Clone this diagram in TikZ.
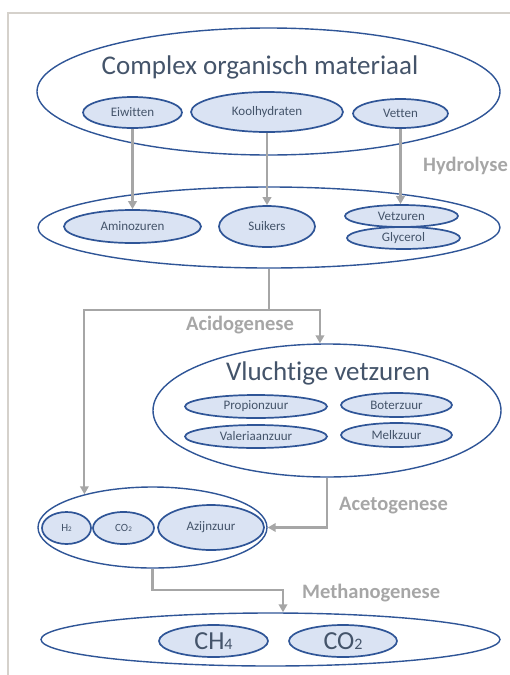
\documentclass[tikz,border=0pt]{standalone}
\usepackage{fontspec}
\setmainfont{Carlito}[Ligatures={NoCommon,NoDiscretionary,NoContextual}]
\usetikzlibrary{shapes.geometric,arrows.meta,calc}
\definecolor{edgeblue}{HTML}{2F5597}
\definecolor{fillblue}{HTML}{DAE3F3}
\definecolor{txtcol}{HTML}{44546A}
\definecolor{conncol}{HTML}{A6A6A6}
\definecolor{framecol}{HTML}{D5D1CB}
\tikzset{
  outerell/.style={ellipse, draw=edgeblue, line width=1.4pt, fill=white, inner sep=0pt},
  innerell/.style={ellipse, draw=edgeblue, line width=1.7pt, fill=fillblue, inner sep=0pt,
     text=txtcol, font=\fontsize{13}{15}\selectfont},
  connline/.style={draw=conncol, line width=2.2pt},
  arr/.style={connline, -{Triangle[length=8pt,width=8.5pt]}},
  stagelbl/.style={text=conncol, font=\bfseries\fontsize{20.5}{24}\selectfont, inner sep=0pt},
  titlelbl/.style={text=txtcol, font=\fontsize{27}{30}\selectfont, inner sep=0pt},
}
\begin{document}
\begin{tikzpicture}[x=1pt,y=-1pt]
\useasboundingbox (0,0) rectangle (510,675);
% frame
\draw[framecol, line width=2pt] (7.5,675) -- (7.5,13.3) -- (510,13.3);

% stage 1
\node[outerell, minimum width=463pt, minimum height=127pt] (cplx) at (268.5,91.5) {};
\node[titlelbl] (cplxt) at (260,67) {Complex organisch materiaal};
\node[innerell, minimum width=99pt, minimum height=31pt] (eiw) at (132.5,112.5) {Eiwitten};
\node[innerell, minimum width=152pt, minimum height=40pt] (kool) at (267,112) {Koolhydraten};
\node[innerell, minimum width=95pt, minimum height=29pt] (vet) at (400.5,113.5) {Vetten};

% stage 2
\node[outerell, minimum width=462pt, minimum height=81pt] (hyd) at (269,227.5) {};
\node[innerell, minimum width=137pt, minimum height=33pt] (amino) at (132.5,226.5) {Aminozuren};
\node[innerell, minimum width=96pt, minimum height=41pt] (suik) at (267,226.5) {Suikers};
\node[innerell, minimum width=113pt, minimum height=22pt] (vetz) at (401.5,216) {Vetzuren};
\node[innerell, minimum width=113pt, minimum height=22pt] (glyc) at (403.5,238) {Glycerol};

% stage 3
\node[outerell, minimum width=348pt, minimum height=133pt] (vfa) at (327,410.5) {};
\node[titlelbl] (vfat) at (328,373) {Vluchtige vetzuren};
\node[innerell, minimum width=142pt, minimum height=23pt] (prop) at (256,406.5) {Propionzuur};
\node[innerell, minimum width=111pt, minimum height=24pt] (bot) at (396.5,405) {Boterzuur};
\node[innerell, minimum width=142pt, minimum height=23pt] (val) at (256,436.5) {Valeriaanzuur};
\node[innerell, minimum width=111pt, minimum height=24pt] (melk) at (396.5,435) {Melkzuur};

% stage 4
\node[outerell, minimum width=229pt, minimum height=81pt] (aceto) at (152.5,527.5) {};
\node[innerell, minimum width=49pt, minimum height=32pt, font=\fontsize{11}{13}\selectfont] (h2) at (66.5,528) {H{\fontsize{7}{8}\selectfont 2}};
\node[innerell, minimum width=61pt, minimum height=32pt, font=\fontsize{11}{13}\selectfont] (co2a) at (123.5,528) {CO{\fontsize{7}{8}\selectfont 2}};
\node[innerell, minimum width=106pt, minimum height=45pt] (azijn) at (211,527.5) {Azijnzuur};

% stage 5
\node[outerell, minimum width=459pt, minimum height=53pt] (fin) at (270.5,639.5) {};
\node[innerell, minimum width=109pt, minimum height=32pt, font=\fontsize{26}{28}\selectfont] (ch4) at (213.5,641) {CH{\fontsize{16}{18}\selectfont 4}};
\node[innerell, minimum width=108pt, minimum height=32pt, font=\fontsize{26}{28}\selectfont] (co2b) at (343,641) {CO{\fontsize{16}{18}\selectfont 2}};

% connectors
\draw[arr] (eiw.south) -- (eiw.south |- amino.north);
\draw[arr] (kool.south) -- (kool.south |- suik.north);
\draw[arr] (vet.south) -- (vet.south |- vetz.north);

\draw[connline] (hyd.south) -- ++(0,41) coordinate (split);
\draw[arr] (split) -| (aceto.154.6);
\draw[arr] (split) -| (vfa.96.9);

\draw[arr] (vfa.south) |- (aceto.east);

\draw[arr] (aceto.south) -- ++(0,21) -| ([xshift=12.5pt]fin.north);

% stage labels
\node[stagelbl, anchor=west] (lhyd) at (423,166) {Hydrolyse};
\node[stagelbl] (lacid) at (240,325) {Acidogenese};
\node[stagelbl, anchor=west] (lacet) at (339,506) {Acetogenese};
\node[stagelbl, anchor=west] (lmeth) at (302,593) {Methanogenese};
\end{tikzpicture}
\end{document}
